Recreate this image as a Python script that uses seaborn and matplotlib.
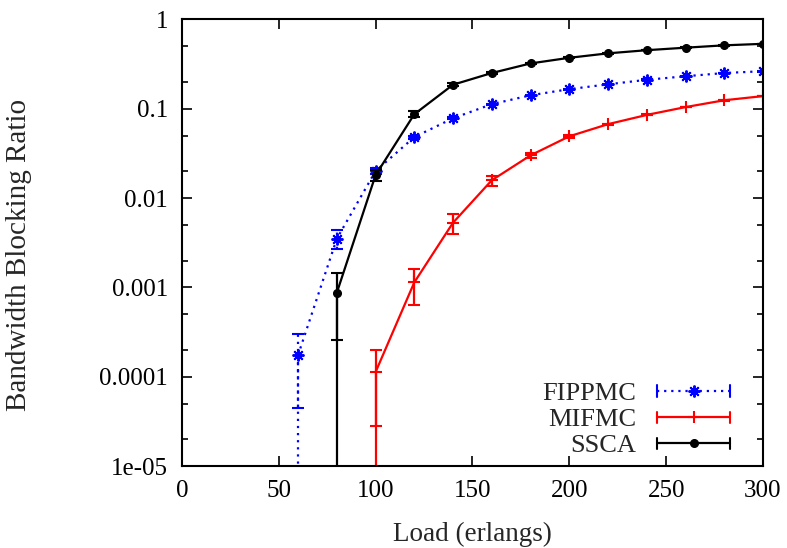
import numpy as np
import pandas as pd
import matplotlib
matplotlib.use("Agg")
import matplotlib.pyplot as plt
from matplotlib.lines import Line2D
from matplotlib.legend_handler import HandlerLine2D
import seaborn as sns

# load values (erlangs)
load = [60, 80, 100, 120, 140, 160, 180, 200, 220, 240, 260, 280, 300]

# bandwidth blocking ratio per scheme (nan = no blocking measured)
fippmc = [1.75e-4, 3.5e-3, 0.020, 0.048, 0.078, 0.112, 0.141, 0.165, 0.187, 0.21, 0.23, 0.25, 0.262]
fippmc_lo = [4.5e-5, 2.7e-3, 0.0185, 0.046, 0.076, 0.110, 0.139, 0.163, 0.185, 0.208, 0.228, 0.248, 0.260]
fippmc_hi = [3.0e-4, 4.4e-3, 0.0215, 0.050, 0.080, 0.114, 0.143, 0.167, 0.189, 0.212, 0.232, 0.252, 0.264]

mifmc = [np.nan, np.nan, 1.13e-4, 1.14e-3, 5.3e-3, 0.0158, 0.030, 0.049, 0.067, 0.085, 0.104, 0.124, 0.138]
mifmc_lo = [np.nan, np.nan, 2.8e-5, 6.3e-4, 4.0e-3, 0.0137, 0.028, 0.047, 0.066, 0.084, 0.103, 0.123, 0.137]
mifmc_hi = [np.nan, np.nan, 2.0e-4, 1.6e-3, 6.6e-3, 0.0177, 0.032, 0.051, 0.068, 0.086, 0.105, 0.125, 0.139]

ssca = [np.nan, 8.7e-4, 0.018, 0.0865, 0.185, 0.25, 0.32, 0.37, 0.415, 0.45, 0.48, 0.51, 0.53]
ssca_lo = [np.nan, 2.6e-4, 0.0155, 0.080, 0.178, 0.246, 0.317, 0.367, 0.412, 0.447, 0.477, 0.507, 0.527]
ssca_hi = [np.nan, 1.44e-3, 0.0205, 0.093, 0.192, 0.254, 0.323, 0.373, 0.418, 0.453, 0.483, 0.513, 0.533]

sns.set_theme(style="ticks")
plt.rcParams["font.family"] = ["Liberation Serif", "DejaVu Serif"]

fig, ax = plt.subplots(figsize=(7.87, 5.48), dpi=100)
fig.subplots_adjust(left=0.231, right=0.9695, top=0.965, bottom=0.149)

ymin, ymax = 1e-5, 1

asterisk = (8, 2, 0)
series = [
    ("FIPPMC", fippmc, fippmc_lo, fippmc_hi, "#0000ff", (0, (1, 2.2)), asterisk, 8.5, 1.4),
    ("MIFMC", mifmc, mifmc_lo, mifmc_hi, "#ff0000", "-", "+", 8, 1.5),
    ("SSCA", ssca, ssca_lo, ssca_hi, "#000000", "-", "o", 5.5, 1.0),
]

handles = []
for name, vals, lo, hi, color, ls, mk, ms, mew in series:
    df = pd.DataFrame({"load": load, "ratio": vals, "lo": lo, "hi": hi}).dropna()
    sns.lineplot(data=df, x="load", y="ratio", ax=ax, color=color, linestyle=ls,
                 linewidth=1.6, marker=mk, markersize=ms,
                 markeredgewidth=mew, markeredgecolor=color, errorbar=None)
    eb = ax.errorbar(df["load"], df["ratio"],
                     yerr=[df["ratio"] - df["lo"], df["hi"] - df["ratio"]],
                     fmt="none", ecolor=color, elinewidth=1.6, capsize=4, capthick=1.5)
    eb[2][0].set_linestyle(ls)  # error bars follow the series' dash style
    # series starts from zero blocking: line drops to the bottom of the axis
    first = df.iloc[0]
    ax.plot([first["load"], first["load"]], [ymin * 0.1, first["ratio"]],
            color=color, linestyle=ls, linewidth=1.6)
    handles.append(Line2D([], [], color=color, linestyle=ls, linewidth=1.6,
                          marker=mk, markersize=ms, markeredgewidth=mew,
                          markeredgecolor=color, label=name))


class CapHandler(HandlerLine2D):
    def create_artists(self, legend, orig_handle, xdescent, ydescent,
                       width, height, fontsize, trans):
        artists = super().create_artists(legend, orig_handle, xdescent, ydescent,
                                         width, height, fontsize, trans)
        yc = (height - ydescent) / 2
        for xe in (-xdescent, width - xdescent):
            cap = Line2D([xe, xe], [yc - 4, yc + 4], color=orig_handle.get_color(),
                         linewidth=1.5, transform=trans)
            artists.append(cap)
        return artists


ax.set_yscale("log")
ax.set_xlim(0, 300)
ax.set_ylim(ymin, ymax)
ax.set_xticks([0, 50, 100, 150, 200, 250, 300])
ax.set_yticks([1e-5, 1e-4, 1e-3, 1e-2, 1e-1, 1],
              labels=["1e-05", "0.0001", "0.001", "0.01", "0.1", "1"])
ax.yaxis.set_minor_locator(matplotlib.ticker.LogLocator(base=10, subs=(2, 5)))
ax.yaxis.set_minor_formatter(matplotlib.ticker.NullFormatter())

ax.tick_params(which="both", direction="in", top=True, right=True,
               labelsize=18, width=1.2, colors="black")
ax.tick_params(which="major", length=7, pad=10)
ax.tick_params(which="minor", length=4)
for sp in ax.spines.values():
    sp.set_linewidth(1.5)
    sp.set_color("black")

ax.set_xlabel("Load (erlangs)", fontsize=19.5, labelpad=14)
ax.set_ylabel("Bandwidth Blocking Ratio", fontsize=21)
ax.yaxis.set_label_coords(-0.258, 0.472)

ax.legend(handles=handles, loc="lower right", bbox_to_anchor=(0.943, 0.02),
          markerfirst=False, frameon=False, fontsize=19, handlelength=2.75,
          handletextpad=0.8, labelspacing=0.1, borderpad=0, borderaxespad=0,
          handler_map={Line2D: CapHandler()})

fig.savefig("out.png", dpi=100)
